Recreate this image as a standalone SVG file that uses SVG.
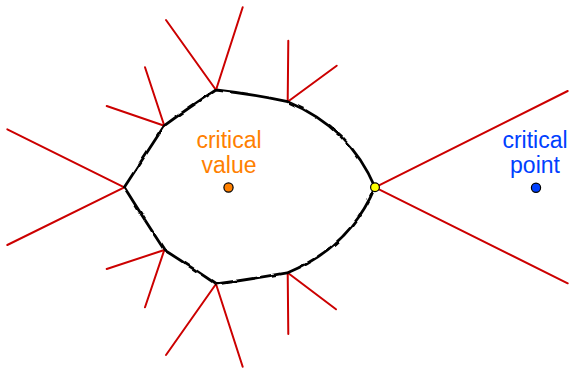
<svg xmlns="http://www.w3.org/2000/svg" width="573" height="368" viewBox="0 0 573 368">
<style>
.ray{stroke:#cc0000;stroke-width:2;fill:none;stroke-linecap:round}
.curve{stroke:#000;stroke-width:2.8;fill:none;stroke-linejoin:round}
.lbl{font-family:"Liberation Sans",Arial,sans-serif;font-size:23px;text-anchor:middle}
.dot{stroke:#000;stroke-width:1.2}
</style>
<defs>
<filter id="wiggle" filterUnits="userSpaceOnUse" x="0" y="0" width="573" height="368">
<feTurbulence type="fractalNoise" baseFrequency="0.1" numOctaves="1" seed="5" result="n"/>
<feDisplacementMap in="SourceGraphic" in2="n" scale="3.2" xChannelSelector="R" yChannelSelector="G"/>
</filter>
</defs>
<rect width="573" height="368" fill="#fff"/>
<g id="connectors">
<g id="rays">
<line class="ray" x1="164.3" y1="125.7" x2="106.7" y2="106"/>
<line class="ray" x1="164.3" y1="125.7" x2="145" y2="67.3"/>
<line class="ray" x1="216" y1="90" x2="166" y2="20"/>
<line class="ray" x1="216" y1="90" x2="242.7" y2="7.3"/>
<line class="ray" x1="287.7" y1="101.7" x2="288.3" y2="40.7"/>
<line class="ray" x1="287.7" y1="101.7" x2="336.7" y2="65.7"/>
<line class="ray" x1="124.3" y1="187.3" x2="7.3" y2="129.3"/>
<line class="ray" x1="124.3" y1="187.3" x2="7.3" y2="245"/>
<line class="ray" x1="164.3" y1="250" x2="106.7" y2="269"/>
<line class="ray" x1="164.3" y1="250" x2="145" y2="307.3"/>
<line class="ray" x1="216" y1="284" x2="166" y2="355"/>
<line class="ray" x1="216" y1="284" x2="242.7" y2="366.7"/>
<line class="ray" x1="287.7" y1="272.7" x2="288.3" y2="334"/>
<line class="ray" x1="287.7" y1="272.7" x2="336" y2="309.3"/>
<line class="ray" x1="375" y1="187.3" x2="567.7" y2="91"/>
<line class="ray" x1="375" y1="187.3" x2="567.7" y2="283.3"/>
</g>
<path id="boundary" class="curve" filter="url(#wiggle)" d="M124.3,187.3 Q146,154 164.3,125.7 Q188,108 216,90 Q252,94 287.7,101.7 Q350,128 375,187.3 Q350,247 287.7,272.7 Q252,279 216,284 Q188,265 164.3,250 Q146,222 124.3,187.3 Z"/>
</g>
<g id="critical-value">
<text class="lbl" x="229" y="148" fill="#ff8000">critical</text>
<text class="lbl" x="229" y="173" fill="#ff8000">value</text>
<circle class="dot" cx="228.5" cy="187.5" r="4.6" fill="#ff8000"/>
</g>
<g id="critical-point">
<text class="lbl" x="535" y="148" fill="#0040ff">critical</text>
<text class="lbl" x="535" y="173" fill="#0040ff">point</text>
<circle class="dot" cx="536" cy="187.7" r="4.6" fill="#0040ff"/>
</g>
<g id="saddle">
<circle class="dot" cx="375" cy="187.3" r="4.4" fill="#ffff00"/>
</g>
</svg>
